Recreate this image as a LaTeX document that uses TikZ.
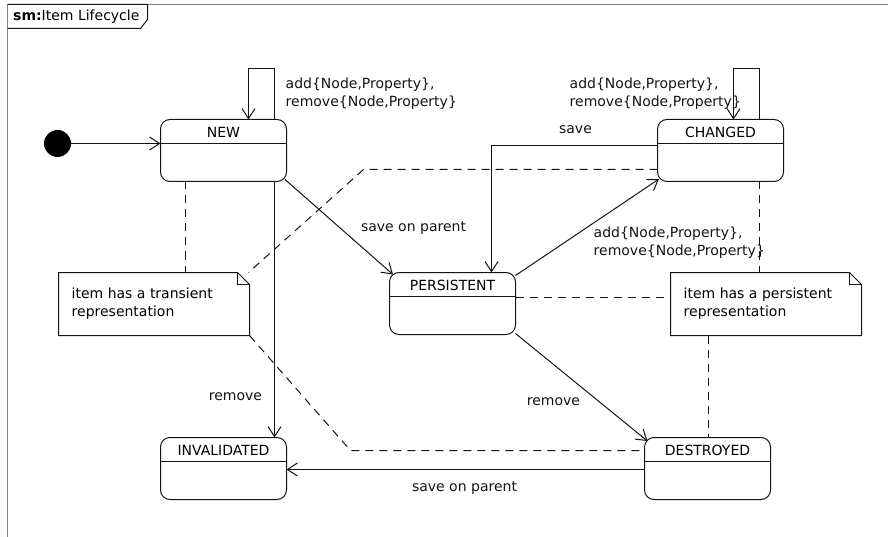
\documentclass[tikz,border=0pt]{standalone}
\usepackage{fontspec}
\setmainfont{DejaVu Sans}
\usetikzlibrary{arrows.meta}

\definecolor{framegray}{RGB}{130,130,130}
\definecolor{ink}{RGB}{20,20,20}

% a UML state: rounded box with its name above a compartment line
\newcommand\umlstate[3]{%
  \node[statebox] (#1) at (#2) {};
  \node[font=\lbl] at ([yshift=-12.5pt]#1.north) {#3};
  \draw[ink, line width=1pt] ([yshift=-24pt]#1.north west) -- ([yshift=-24pt]#1.north east);
}
% a UML note with a folded corner
\newcommand\umlnote[3]{%
  \node[notebox] (#1) at (#2) {};
  \draw[ink, line width=1pt] (#1.north west) -- ([xshift=-12pt]#1.north east)
     -- ([yshift=-12pt]#1.north east) -- (#1.south east) -- (#1.south west) -- cycle;
  \draw[ink, line width=1pt] ([xshift=-12pt]#1.north east) |- ([yshift=-12pt]#1.north east);
  \node[font=\lbl, align=left, anchor=west, inner sep=0pt] at ([xshift=13pt,yshift=0.5pt]#1.west) {#3};
}
\newcommand\lbl{\fontsize{14}{18.5}\selectfont}

\tikzset{
  statebox/.style={draw=ink, line width=1pt, rounded corners=9.5pt,
    minimum width=126pt, minimum height=62pt, inner sep=0pt, outer sep=0pt},
  notebox/.style={minimum width=191pt, minimum height=63pt, inner sep=0pt, outer sep=0pt},
  trans/.style={draw=ink, line width=1pt,
    -{Straight Barb[length=10pt,width=13pt,line width=1pt]}},
  anchorline/.style={draw=ink, line width=1pt, dash pattern=on 8pt off 6pt},
  tlabel/.style={font=\lbl, text=ink, inner sep=0pt},
}

\begin{document}
\begin{tikzpicture}[x=1pt,y=-1pt]
\useasboundingbox (0,0) rectangle (888,537);

% half-unit offset puts whole-number lines on pixel centres
\begin{scope}[shift={(0.5,0.5)}]

% diagram frame and its name tab
\draw[framegray, line width=1pt] (890,4) -- (7,4) -- (7,540);
\draw[ink, line width=1pt] (7,4) -- (147,4) -- (147,19) -- (140,28) -- (7,28);
\node[font=\lbl, anchor=west, inner sep=0pt] (title) at (12.5,16) {\textbf{sm:}Item Lifecycle};

% initial pseudostate
\node[circle, fill=black, minimum size=27pt, inner sep=0pt] (init) at (57,143) {};

% states
\umlstate{new}{223,150}{NEW}
\umlstate{changed}{720,150}{CHANGED}
\umlstate{persistent}{452,303}{PERSISTENT}
\umlstate{invalid}{223,468}{INVALIDATED}
\umlstate{destroyed}{707,468}{DESTROYED}

% notes
\umlnote{ntrans}{153.5,303.5}{item has a transient\\representation}
\umlnote{npers}{765.5,303.5}{item has a persistent\\representation}

% transitions
\draw[trans] (init) -- (init -| new.west);

\draw[trans] ([xshift=51pt]new.north) -- ++(0,-51) -| ([xshift=25pt]new.north);
\node[tlabel, align=left, anchor=west] (lnew) at (285,93) {add\{Node,Property\},\\remove\{Node,Property\}};

\draw[trans] ([xshift=39pt]changed.north) -- ++(0,-51) -| ([xshift=13pt]changed.north);
\node[tlabel, align=left, anchor=west] (lchg) at (569,93) {add\{Node,Property\},\\remove\{Node,Property\}};

\draw[trans] ([yshift=-26pt]changed.north west) -| ([xshift=39pt]persistent.north);
\node[tlabel] (lsave) at (575,129) {save};

\draw[trans] ([xshift=-1.5pt,yshift=2pt]new.south east) -- ([xshift=3.5pt,yshift=-2pt]persistent.north west);
\node[tlabel] (lsop1) at (413,228) {save on parent};

\draw[trans] ([yshift=-3pt]persistent.north east) -- ([xshift=1.5pt,yshift=2.5pt]changed.south west);
\node[tlabel, align=left, anchor=west] (lpc) at (593,242) {add\{Node,Property\},\\remove\{Node,Property\}};

\draw[trans] ([yshift=1pt]persistent.south east) -- ([xshift=3pt,yshift=-3.5pt]destroyed.north west);
\node[tlabel] (lrm1) at (553,401) {remove};

\draw[trans] ([xshift=51pt]new.south) -- ([xshift=51pt]invalid.north);
\node[tlabel] (lrm2) at (235,396) {remove};

\draw[trans] ([yshift=-1pt]destroyed.west) -- ([yshift=-1pt]invalid.east);
\node[tlabel] (lsop2) at (464,488) {save on parent};

% note anchors
\coordinate (bendup) at (363,169);
\coordinate (benddown) at (350,450);
\draw[anchorline] ([xshift=-38pt]new.south) -- ([xshift=31.5pt]ntrans.north);
\draw[anchorline] ([yshift=-19pt]changed.west) -- (bendup) -- ([xshift=-1pt]ntrans.north east);
\draw[anchorline] (ntrans.south east) -- (benddown) -- ([yshift=18pt]destroyed.west);
\draw[anchorline] ([xshift=39pt]changed.south) -- ([xshift=-6.5pt]npers.north);
\draw[anchorline] ([yshift=6pt]persistent.east) -- ([yshift=6.5pt]npers.west);
\draw[anchorline] ([xshift=-57.5pt]npers.south) -- ([xshift=1pt]destroyed.north);
\end{scope}
\end{tikzpicture}
\end{document}
